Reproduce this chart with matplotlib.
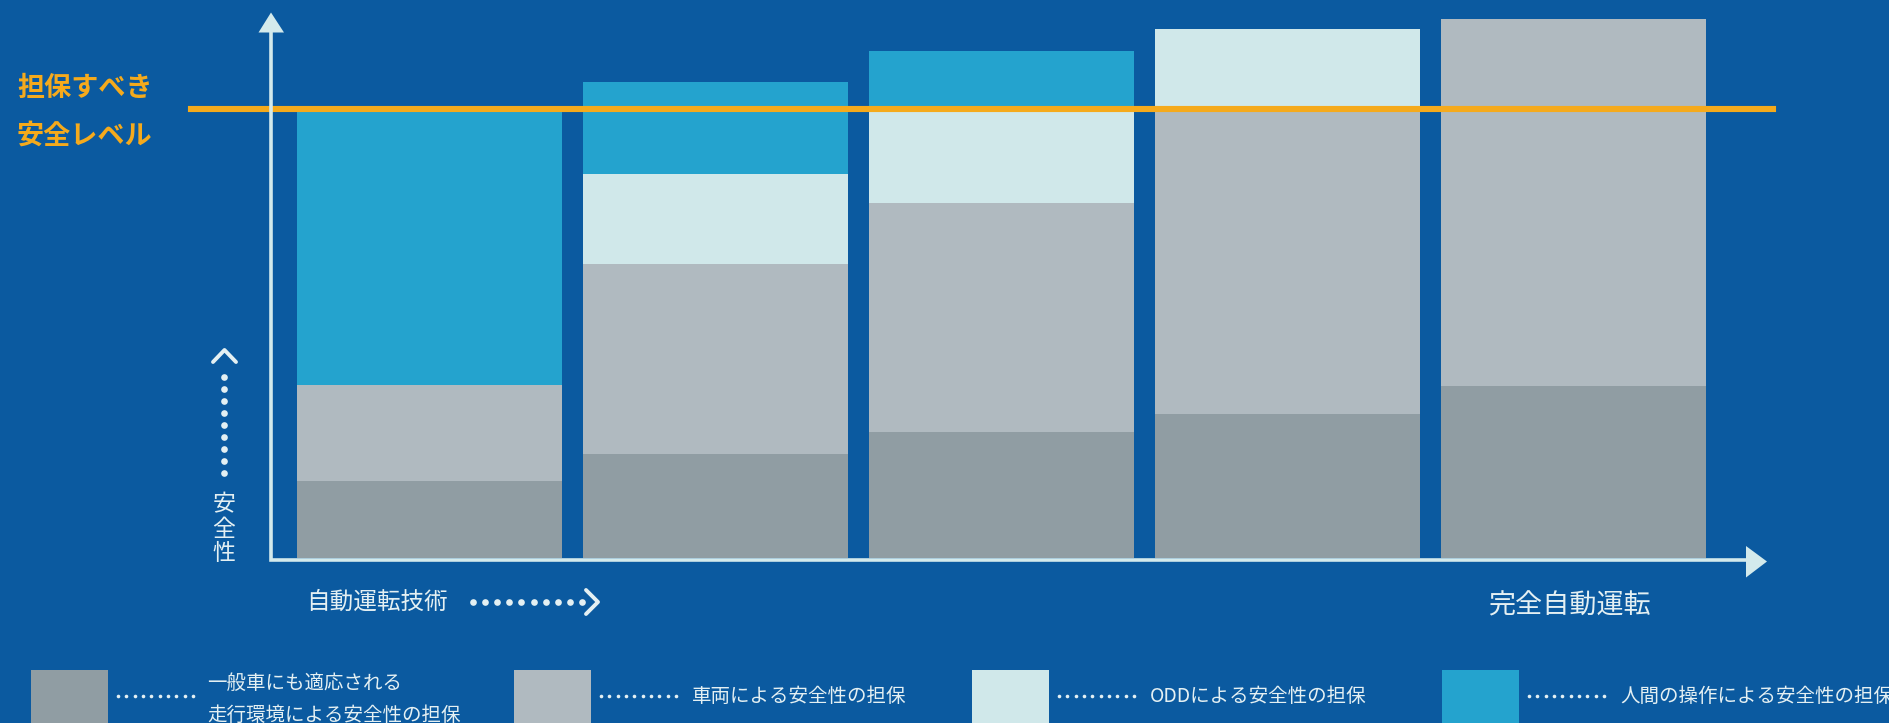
import numpy as np
import matplotlib
matplotlib.use("Agg")
import matplotlib.pyplot as plt
from matplotlib.patches import Rectangle, Polygon

plt.rcParams['font.family'] = ['Noto Sans CJK JP', 'DejaVu Sans']

# stacked safety shares per stage (safe level = 100)
stages = ['stage1', 'stage2', 'stage3', 'stage4', 'stage5']
road_env = [17.0, 23.0, 28.0, 32.0, 38.3]      # 一般車にも適応される走行環境
vehicle = [21.5, 42.4, 51.0, 67.3, 81.8]       # 車両
odd = [0.0, 20.1, 20.6, 18.5, 0.0]             # ODD
human = [61.0, 20.5, 13.4, 0.0, 0.0]           # 人間の操作
safe_level = 100

series = [road_env, vehicle, odd, human]
colors = ['#909DA3', '#B0BAC0', '#D0E8EA', '#24A3CE']
legend_labels = ['一般車にも適応される\n走行環境による安全性の担保',
                 '車両による安全性の担保',
                 'ODDによる安全性の担保',
                 '人間の操作による安全性の担保']

BG = '#0B5AA0'
AXC = '#D3EAEC'
ORANGE = '#F5AA1C'
TXT = '#E4F0F3'

W, H = 1889, 723
fig = plt.figure(figsize=(W / 100, H / 100), dpi=100, facecolor=BG)

# main chart area (pixel box 271..1767 x, 12..557.5 y)
ax = fig.add_axes([271 / W, (H - 557.5) / H, 1496 / W, 545.5 / H])
ax.set_facecolor('none')
x = np.arange(len(stages))
bottom = np.zeros(len(stages))
for vals, c in zip(series, colors):
    ax.bar(x, vals, bottom=bottom, width=0.927, color=c, linewidth=0, zorder=2)
    bottom += np.array(vals)
ax.set_xlim(-0.554, 4.677)
ax.set_ylim(0, 121.6)
ax.axhline(safe_level, xmin=-0.0535, xmax=1.004, color=ORANGE, lw=4.4,
           clip_on=False, zorder=5)
ax.axis('off')

# overlay in pixel coordinates for axis arrows, labels and legend
ov = fig.add_axes([0, 0, 1, 1])
ov.set_xlim(0, W)
ov.set_ylim(H, 0)
ov.axis('off')
ov.set_facecolor('none')

# axis lines with arrow heads
ov.plot([271, 271, 1750], [30, 560, 560], color=AXC, lw=2.6,
        solid_joinstyle='miter', zorder=3)
ov.add_patch(Polygon([[258.5, 32.5], [271, 12.5], [284, 32.5]], closed=True,
                     color=AXC, lw=0, zorder=3))
ov.add_patch(Polygon([[1746, 546], [1767, 561.5], [1746, 577.5]], closed=True,
                     color=AXC, lw=0, zorder=3))

# safe level label
ov.text(17, 88, '担保すべき', color=ORANGE, fontsize=19.5, fontweight='bold',
        va='center', ha='left')
ov.text(17, 136, '安全レベル', color=ORANGE, fontsize=19.5, fontweight='bold',
        va='center', ha='left')

# vertical "safety" label with dotted up arrow
ov.plot([224] * 9, np.linspace(377, 473, 9), 'o', color=TXT, ms=4.8, mew=0)
ov.plot([213, 224.5, 236], [362, 350, 362], color=TXT, lw=2.8,
        solid_capstyle='round', solid_joinstyle='round')
for k, ch in enumerate('安全性'):
    ov.text(224, 505 + k * 24, ch, color=TXT, fontsize=16.5, ha='center',
            va='center')

# x axis captions
ov.text(306, 602, '自動運転技術', color=TXT, fontsize=17, ha='left', va='center')
ov.plot(np.linspace(473, 582, 10), [602] * 10, 'o', color=TXT, ms=4.8, mew=0)
ov.plot([586, 598, 586], [590, 602, 614], color=TXT, lw=2.8,
        solid_capstyle='round', solid_joinstyle='round')
ov.text(1569, 606, '完全自動運転', color=TXT, fontsize=19.5, ha='center',
        va='center')

# legend row
sq_x = [31, 514, 972, 1442]
for i, (lab, c) in enumerate(zip(legend_labels, colors)):
    x0 = sq_x[i]
    ov.add_patch(Rectangle((x0, 670), 77, 60, color=c, lw=0))
    ov.plot(np.linspace(x0 + 87, x0 + 162, 10), [696] * 10, 'o',
            color=TXT, ms=2.6, mew=0)
    if '\n' in lab:
        l1, l2 = lab.split('\n')
        ov.text(x0 + 176, 683, l1, color=TXT, fontsize=14, va='center')
        ov.text(x0 + 176, 715, l2, color=TXT, fontsize=14, va='center')
    else:
        ov.text(x0 + 178, 696, lab, color=TXT, fontsize=14, va='center')

fig.savefig('out.png', dpi=100, facecolor=BG)
